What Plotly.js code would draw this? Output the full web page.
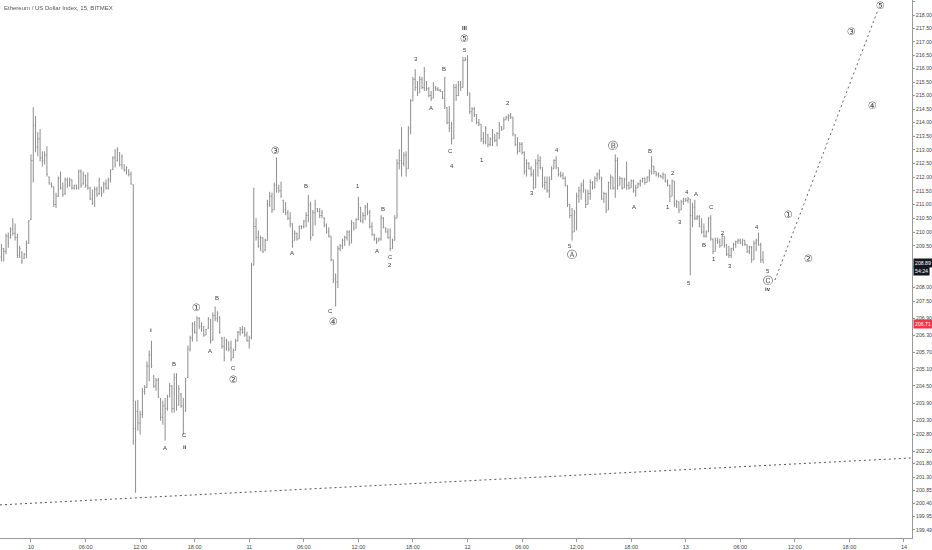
<!DOCTYPE html>
<html><head><meta charset="utf-8">
<script src="https://cdn.plot.ly/plotly-3.0.1.min.js"></script>
<style>html,body{margin:0;padding:0;background:#fff}#chart{width:932px;height:550px}
.main-svg{opacity:0.999}</style>
</head><body><div id="chart"></div>
<script>
// ---- DATA: 15-minute OHLC bars, first bar 2018-11-09 20:45 ----
const openP = [
209.10,209.40,209.30,209.85,209.80,210.10,209.95,209.80,209.15,209.25,
209.05,209.20,209.60,210.45,212.60,213.90,213.10,213.40,212.70,212.60,
212.80,212.00,211.75,211.65,211.00,211.30,211.95,211.60,211.40,211.90,
211.70,211.90,211.60,211.70,211.60,212.20,211.75,212.05,211.70,211.60,
211.20,211.05,211.55,211.40,211.60,211.45,211.75,211.60,211.90,212.28,
212.70,212.60,212.90,212.45,212.45,212.25,212.25,212.10,211.72,
203.00,203.60,203.20,203.50,204.30,204.45,205.20,205.60,204.85,204.50,
204.70,204.05,203.40,203.80,203.70,204.15,204.50,203.70,204.80,204.05,
204.20,203.80,203.60,204.80,205.80,206.20,206.70,206.40,206.90,206.60,
206.60,206.30,206.55,206.85,206.15,207.00,206.90,206.95,206.20,205.90,
205.80,206.05,205.85,205.50,205.75,206.10,206.40,206.50,206.40,206.30,
206.10,206.20,208.80,
210.20,209.80,209.50,209.80,209.35,209.70,211.00,211.30,210.80,211.70,
211.60,211.50,211.15,210.80,210.70,210.50,210.30,209.70,209.95,209.75,
210.20,210.20,210.40,210.60,211.00,209.90,210.70,210.85,210.75,210.60,
210.50,210.25,210.00,209.85,209.00,208.30,208.20,209.40,209.50,209.70,
209.80,210.00,209.60,210.35,210.15,210.45,210.90,210.40,210.60,210.90,
210.70,210.20,209.90,209.75,209.70,209.75,210.50,210.15,210.00,209.80,
209.40,209.70,
210.50,212.50,212.60,212.50,212.80,212.30,213.80,214.80,215.60,215.30,
215.10,215.60,215.30,215.50,215.25,215.00,214.90,215.30,215.25,215.20,
215.15,214.90,214.55,214.00,213.80,213.40,215.30,215.00,215.40,215.30,
216.30,216.35,215.10,214.40,214.50,214.30,214.00,213.94,213.40,213.30,
213.55,213.20,213.40,213.55,213.35,213.60,213.85,213.76,214.10,214.20,
214.25,214.20,213.55,213.20,212.95,213.20,212.90,212.20,212.50,212.30,
212.10,211.60,212.50,212.60,212.35,211.70,211.80,211.50,211.90,212.30,
212.60,212.35,212.10,212.05,211.95,211.70,211.00,210.60,210.00,210.70,
211.30,211.50,211.70,211.54,211.00,211.40,211.80,211.60,211.95,212.10,
212.00,211.20,211.40,210.80,211.80,212.00,211.60,212.60,211.70,211.95,
211.60,211.90,211.70,211.60,211.85,211.50,211.60,211.75,211.85,211.95,
211.80,212.00,212.20,212.40,212.20,212.10,212.05,212.00,212.10,211.85,
211.70,211.30,211.85,211.00,211.10,210.80,211.10,211.20,211.15,211.20,
210.60,210.90,210.50,210.55,210.20,210.00,209.85,210.00,210.50,209.75,
209.30,209.70,209.65,209.50,209.85,209.50,209.20,209.15,209.40,209.55,
209.65,209.70,209.60,209.70,209.55,209.30,209.45,209.00,209.60,209.70,
209.55,209.00];
const highP = [
209.57,209.43,209.94,209.98,210.17,210.50,210.31,209.94,209.50,209.31,
209.24,209.69,210.43,212.83,214.57,214.24,213.65,213.76,212.94,212.94,
213.13,212.02,211.80,211.65,211.43,212.02,212.20,211.80,211.98,211.98,
211.98,211.91,211.72,211.72,212.28,212.28,212.20,212.09,212.17,211.65,
211.54,211.65,211.65,211.98,211.65,211.83,211.91,211.98,212.28,212.76,
213.02,213.09,212.91,212.83,212.46,212.39,212.28,212.20,211.72,
203.98,204.01,203.63,204.43,204.53,205.37,205.75,206.10,204.88,204.78,
204.78,204.08,203.98,204.08,204.19,204.60,204.53,204.95,204.95,204.53,
204.26,204.08,204.78,205.93,206.28,206.76,206.80,206.97,206.94,206.76,
206.63,206.52,206.94,206.87,207.11,207.32,207.15,206.97,206.24,206.24,
206.17,206.07,206.10,205.82,206.17,206.45,206.59,206.63,206.59,206.42,
206.28,208.89,211.61,
210.50,210.06,209.87,209.80,209.76,211.17,211.46,211.43,211.80,212.72,
211.72,211.83,211.17,211.09,210.80,210.72,210.31,210.06,209.98,210.24,
210.24,210.43,210.72,211.35,211.10,210.80,211.17,210.87,210.87,210.80,
210.54,210.31,210.17,209.85,209.00,208.51,209.50,209.57,209.76,209.87,
210.06,210.06,210.43,210.35,210.50,211.28,210.91,210.72,210.98,211.06,
210.80,210.35,209.94,209.80,209.80,210.61,210.54,210.17,210.13,210.13,
209.76,210.61,
212.65,213.02,213.83,212.91,212.94,213.87,214.87,215.69,215.98,215.54,
215.72,215.69,216.06,215.54,215.31,215.17,215.50,215.35,215.31,215.24,
215.17,215.69,214.57,214.61,214.02,215.43,215.43,215.54,215.54,216.43,
216.43,216.50,215.10,214.57,214.57,214.31,214.13,213.94,213.65,213.87,
213.57,213.46,213.76,213.57,213.65,214.02,213.87,214.20,214.24,214.31,
214.35,214.20,213.57,213.46,213.28,213.28,212.94,212.65,212.54,212.39,
212.28,212.65,212.83,212.76,212.35,212.02,212.02,212.02,212.39,212.65,
212.76,212.35,212.20,212.17,212.02,211.70,211.00,210.87,210.80,211.43,
211.65,211.80,211.91,211.54,211.54,211.91,211.85,212.02,212.17,212.28,
212.00,211.46,211.43,211.83,212.09,212.00,212.83,212.72,212.02,211.98,
211.98,212.57,211.83,211.91,211.91,211.72,211.80,211.91,211.98,211.98,
212.02,212.28,212.76,212.40,212.20,212.17,212.09,212.17,212.10,211.91,
211.72,211.91,211.85,211.17,211.10,211.17,211.24,211.24,211.28,211.20,
211.06,211.17,210.61,210.61,210.50,210.31,210.06,210.54,210.61,209.76,
209.80,209.80,209.76,209.94,209.85,209.57,209.50,209.43,209.61,209.69,
209.76,209.76,209.76,209.70,209.55,209.50,209.50,209.69,209.76,209.98,
209.61,209.31];
const lowP = [
208.94,208.94,209.20,209.43,209.76,209.87,209.69,209.06,209.06,208.85,
209.02,209.06,209.57,210.43,211.80,212.91,212.76,212.57,212.39,212.46,
212.02,211.72,211.61,210.91,210.87,211.28,211.54,211.28,211.35,211.61,
211.65,211.54,211.54,211.54,211.54,211.61,211.72,211.61,211.54,211.17,
210.98,210.91,211.28,211.35,211.28,211.43,211.54,211.54,211.80,212.25,
212.35,212.57,212.39,212.28,212.20,212.09,212.02,211.72,202.44,
200.77,202.93,202.79,203.38,204.19,204.43,204.67,205.13,204.43,204.33,
204.08,203.28,203.14,202.58,203.63,204.10,203.56,203.56,203.63,203.80,
203.73,202.79,203.60,204.78,205.72,206.07,206.35,206.07,206.52,206.42,
206.24,206.30,206.52,206.00,206.10,206.80,206.76,206.35,205.82,205.37,
205.75,205.72,205.37,205.48,205.75,206.07,206.28,206.35,206.24,206.07,
205.82,206.15,208.80,
209.69,209.43,209.31,209.24,209.31,209.69,210.91,210.69,210.80,211.43,
211.43,211.24,210.69,210.61,210.43,210.17,209.43,209.69,209.69,209.75,
210.10,210.13,210.17,210.35,209.69,209.85,210.24,210.72,210.50,210.50,
210.17,209.94,209.80,208.94,208.16,207.32,207.98,209.31,209.39,209.50,
209.69,209.50,209.60,210.06,210.13,210.43,210.35,210.31,210.43,210.61,
210.13,209.87,209.69,209.57,209.65,209.69,210.13,209.98,209.76,209.31,
209.39,209.69,
210.50,212.28,212.02,212.39,212.02,212.30,213.57,214.80,215.17,214.98,
215.10,215.24,215.17,215.17,214.94,214.80,214.90,215.17,215.17,215.13,
214.87,214.50,213.94,213.65,213.20,213.40,214.80,214.98,215.17,215.30,
216.28,214.98,214.31,214.02,214.20,213.94,213.87,213.28,213.20,213.20,
213.09,213.13,213.13,213.28,213.13,213.39,213.69,213.76,214.10,214.06,
214.13,213.50,213.13,212.83,212.91,212.83,212.09,212.02,212.28,212.02,
211.54,211.60,212.02,212.28,211.61,211.54,211.43,211.24,211.90,212.30,
212.28,212.02,211.98,211.91,211.65,210.91,210.50,209.69,210.00,210.06,
211.06,211.17,211.43,210.87,211.00,211.17,211.54,211.60,211.83,211.91,
211.17,211.06,210.69,210.80,211.54,211.54,211.24,211.54,211.70,211.54,
211.60,211.54,211.54,211.60,211.43,211.28,211.60,211.65,211.80,211.72,
211.80,211.83,212.09,212.10,212.02,211.98,211.98,211.91,211.80,211.65,
211.09,211.30,210.91,210.87,210.69,210.80,210.98,211.09,211.06,208.44,
210.17,210.43,210.43,210.17,209.94,209.80,209.80,210.00,209.69,209.20,
209.30,209.57,209.43,209.50,209.43,209.13,209.06,209.06,209.31,209.43,
209.57,209.57,209.50,209.50,209.24,209.20,208.89,209.00,209.31,209.50,
208.89,208.89];
const closeP = [
209.40,209.30,209.85,209.60,210.10,209.95,209.80,209.15,209.40,208.95,
209.20,209.60,210.40,212.60,213.90,213.10,213.40,212.70,212.60,212.80,
212.10,211.80,211.65,211.00,211.30,211.95,211.60,211.35,211.90,211.70,
211.90,211.60,211.70,211.60,212.20,211.70,212.10,211.70,211.60,211.20,
211.05,211.55,211.35,211.90,211.40,211.75,211.60,211.90,212.25,212.70,
212.45,213.00,212.45,212.75,212.25,212.35,212.10,211.75,203.00,
203.60,203.20,203.50,204.30,204.45,205.20,205.60,205.20,204.50,204.70,
204.10,203.40,203.80,203.70,204.10,204.50,203.70,204.80,203.80,204.40,
203.80,203.10,204.70,205.80,206.20,206.70,206.40,206.90,206.60,206.70,
206.30,206.50,206.90,206.10,207.00,206.90,207.10,206.40,205.90,205.50,
206.10,205.80,205.45,205.75,206.10,206.40,206.50,206.40,206.30,206.10,
206.20,208.80,210.20,
209.80,209.50,209.80,209.30,209.70,211.00,211.30,210.80,211.70,211.60,
211.50,211.30,210.80,210.70,210.50,210.30,209.70,209.95,209.75,210.20,
210.20,210.40,210.60,211.00,209.80,210.70,211.00,210.75,210.60,210.70,
210.25,210.00,209.85,209.00,208.30,208.20,209.40,209.50,209.70,209.80,
210.00,209.60,210.35,210.10,210.45,211.00,210.40,210.60,210.90,210.70,
210.20,209.90,209.75,209.65,209.75,210.50,210.20,210.00,209.80,209.40,
209.70,210.50,
212.50,212.60,212.50,212.80,212.30,213.80,214.80,215.60,215.30,215.10,
215.60,215.30,215.90,215.25,215.00,214.90,215.40,215.25,215.20,215.15,
214.90,214.60,214.00,213.80,213.40,215.30,215.00,215.40,215.30,216.30,
216.35,215.10,214.40,214.50,214.30,214.00,213.95,213.40,213.30,213.80,
213.20,213.40,213.70,213.35,213.60,213.90,213.75,214.10,214.20,214.25,
214.20,213.60,213.20,212.95,213.20,212.90,212.20,212.50,212.30,212.10,
211.60,212.50,212.60,212.35,211.70,211.80,211.50,211.90,212.30,212.60,
212.40,212.10,212.05,211.95,211.70,211.00,210.60,210.00,210.70,211.30,
211.50,211.70,211.60,211.00,211.40,211.80,211.60,211.95,212.10,212.20,
211.20,211.40,210.80,211.80,212.00,211.60,212.60,211.70,211.95,211.60,
211.90,211.70,211.60,211.85,211.50,211.60,211.75,211.85,211.95,211.80,
212.00,212.20,212.40,212.20,212.10,212.05,212.00,212.10,211.85,211.70,
211.30,211.85,211.00,211.10,210.80,211.10,211.20,211.15,211.20,210.60,
210.90,210.50,210.55,210.20,210.00,209.85,210.00,210.50,209.75,209.30,
209.70,209.65,209.50,209.85,209.50,209.20,209.15,209.40,209.55,209.65,
209.70,209.60,209.70,209.55,209.30,209.45,209.00,209.60,209.70,209.55,
209.00,208.89];

const lastPrice = 208.89;
const timerText = '54:24';
const timerPrice = 208.61;
const stopPrice = 206.71;
const stopStart = '2018-11-13 04:19';
// dotted trend line (time, price)
const trendX = ['2018-11-09 20:35:30', '2018-11-14 00:53'];
const trendY = [200.35, 201.98];
// dotted projection line
const projX = ['2018-11-13 09:49', '2018-11-13 21:08'];
const projY = [208.27, 218.19];
// target box
const boxX = ['2018-11-13 07:17', '2018-11-13 17:24'];
const boxY = [207.71, 208.72];

const yTicks = [218.5,218,217.5,217,216.5,216,215.5,215,214.5,214,213.5,213,212.5,212,211.5,211,210.5,210,209.5,
  208,207.5,206.9,206.3,205.7,205.1,204.5,203.9,203.3,202.8,202.2,201.8,201.3,200.85,200.4,199.95,199.49];
const xTickVals = ['2018-11-10 00:00','2018-11-10 06:00','2018-11-10 12:00','2018-11-10 18:00',
  '2018-11-11 00:00','2018-11-11 06:00','2018-11-11 12:00','2018-11-11 18:00',
  '2018-11-12 00:00','2018-11-12 06:00','2018-11-12 12:00','2018-11-12 18:00',
  '2018-11-13 00:00','2018-11-13 06:00','2018-11-13 12:00','2018-11-13 18:00','2018-11-14 00:00'];
const xTickText = ['10','06:00','12:00','18:00','11','06:00','12:00','18:00','12','06:00','12:00','18:00','13','06:00','12:00','18:00','14'];

// wave labels: [time, price, text, kind]  kind: l=letter/digit, c=circled, r=roman
const waveLabels = [
 ['2018-11-11 23:43',217.50,'III','r'],['2018-11-11 23:43',217.13,'⑤','c'],['2018-11-11 23:43',216.68,'5','l'],
 ['2018-11-11 18:20',216.35,'3','l'],['2018-11-11 21:25',215.98,'B','l'],['2018-11-11 19:59',214.53,'A','l'],
 ['2018-11-11 22:11',212.94,'C','l'],['2018-11-11 22:18',212.42,'4','l'],['2018-11-12 01:36',212.64,'1','l'],
 ['2018-11-12 04:27',214.72,'2','l'],['2018-11-12 07:06',211.42,'3','l'],['2018-11-12 09:51',212.98,'4','l'],
 ['2018-11-12 11:16',209.50,'5','l'],['2018-11-12 11:29',209.18,'Ⓐ','c'],['2018-11-12 16:00',213.16,'Ⓑ','c'],
 ['2018-11-12 18:19',210.90,'A','l'],['2018-11-12 20:04',212.94,'B','l'],['2018-11-12 22:36',212.13,'2','l'],
 ['2018-11-12 22:03',210.90,'1','l'],['2018-11-12 23:22',210.38,'3','l'],['2018-11-13 00:08',211.46,'4','l'],
 ['2018-11-13 01:08',211.39,'A','l'],['2018-11-13 02:53',210.90,'C','l'],['2018-11-13 02:00',209.53,'B','l'],
 ['2018-11-13 04:06',209.98,'2','l'],['2018-11-13 03:06',209.01,'1','l'],['2018-11-13 04:52',208.79,'3','l'],
 ['2018-11-13 00:21',208.16,'5','l'],['2018-11-13 07:50',210.20,'4','l'],['2018-11-13 09:03',208.58,'5','l'],
 ['2018-11-13 09:03',208.26,'Ⓒ','c'],['2018-11-13 09:03',207.95,'iv','r'],
 ['2018-11-13 11:21',210.64,'①','c'],['2018-11-13 13:33',209.05,'②','c'],['2018-11-13 18:17',217.38,'③','c'],
 ['2018-11-13 20:35',214.64,'④','c'],['2018-11-13 21:22',218.38,'⑤','c'],
 ['2018-11-11 02:56',212.98,'③','c'],['2018-11-11 06:14',211.68,'B','l'],['2018-11-11 04:42',209.24,'A','l'],
 ['2018-11-11 11:57',211.68,'1','l'],['2018-11-11 14:42',210.83,'B','l'],['2018-11-11 14:03',209.31,'A','l'],
 ['2018-11-11 15:29',209.09,'C','l'],['2018-11-11 15:29',208.82,'2','l'],['2018-11-11 08:59',207.15,'C','l'],
 ['2018-11-11 09:13',206.80,'④','c'],
 ['2018-11-10 13:12',206.49,'i','r'],['2018-11-10 15:43',205.27,'B','l'],['2018-11-10 14:44',202.34,'A','l'],
 ['2018-11-10 16:56',202.79,'C','l'],['2018-11-10 16:56',202.37,'ii','r'],['2018-11-10 18:09',207.29,'①','c'],
 ['2018-11-10 20:27',207.64,'B','l'],['2018-11-10 19:41',205.75,'A','l'],['2018-11-10 22:13',205.13,'C','l'],
 ['2018-11-10 22:13',204.74,'②','c']
];

// ---- build ----
function fmt(ms){const d=new Date(ms);const p=n=>String(n).padStart(2,'0');
  return d.getUTCFullYear()+'-'+p(d.getUTCMonth()+1)+'-'+p(d.getUTCDate())+' '+p(d.getUTCHours())+':'+p(d.getUTCMinutes());}
const t0 = Date.UTC(2018,10,9,20,45);
const times = openP.map((_,i)=>fmt(t0+i*15*60000));
const L = Math.log10;
const FONT = '"Liberation Sans",Arial,sans-serif';
const barColor = '#8d8d8d';
const labelColor = '#3c3c3c';

const traces = [
 {type:'ohlc', x:times, open:openP, high:highP, low:lowP, close:closeP,
  increasing:{line:{color:barColor,width:1}}, decreasing:{line:{color:barColor,width:1}},
  tickwidth:0.35, hoverinfo:'skip', showlegend:false},
 {type:'scatter', mode:'lines', x:trendX, y:trendY, line:{color:'#555',width:1,dash:'2px,3px'}, hoverinfo:'skip', showlegend:false},
 {type:'scatter', mode:'lines', x:projX, y:projY, line:{color:'#666',width:1,dash:'2px,3px'}, hoverinfo:'skip', showlegend:false}
];

const annotations = waveLabels.map(([t,p,txt,k])=>({
  x:t, y:L(p), xref:'x', yref:'y', text: txt, showarrow:false,
  xanchor:'center', yanchor:'middle',
  font: k==='c' ? {family:'"DejaVu Sans",sans-serif', size:10, color:'#4a4a4a'}
                : {family:FONT, size:6, color:labelColor, weight: k==='r' ? 700 : 400}
}));
const boxFont = {family:FONT, size:5.2, color:'#fff'};
annotations.push(
 {xref:'paper', yref:'paper', x:0, y:1, xshift:2, yshift:-3, xanchor:'left', yanchor:'top', showarrow:false,
  text:'Ethereum / US Dollar Index, 15, BITMEX', font:{family:FONT, size:6, color:'#555'}},
 {xref:'paper', yref:'y', x:1, y:L(lastPrice), xanchor:'left', yanchor:'middle', xshift:1, showarrow:false,
  text:lastPrice.toFixed(2), bgcolor:'#131722', borderpad:1, font:boxFont},
 {xref:'paper', yref:'y', x:1, y:L(timerPrice), xanchor:'left', yanchor:'middle', xshift:1, showarrow:false,
  text:timerText, bgcolor:'#131722', borderpad:1, font:boxFont},
 {xref:'paper', yref:'y', x:1, y:L(stopPrice), xanchor:'left', yanchor:'middle', xshift:1, showarrow:false,
  text:stopPrice.toFixed(2), bgcolor:'#f23645', borderpad:1, font:boxFont}
);

const shapes = [
 {type:'rect', xref:'x', yref:'y', x0:boxX[0], x1:boxX[1], y0:L(boxY[0]), y1:L(boxY[1]),
  fillcolor:'#fde8d7', line:{color:'#e3977d', width:1}, layer:'below'},
 {type:'line', xref:'paper', yref:'y', x0:0, x1:1, y0:L(lastPrice), y1:L(lastPrice), line:{color:'#555', width:1}},
 {type:'line', xref:'x', yref:'y', x0:stopStart, x1:trendX[1], y0:L(stopPrice), y1:L(stopPrice), line:{color:'#f23645', width:1}}
];

const layout = {
  width:932, height:550, margin:{l:0, r:20, t:0, b:12, pad:0},
  paper_bgcolor:'#fff', plot_bgcolor:'#fff', showlegend:false,
  font:{family:FONT, size:5.2, color:'#555'},
  xaxis:{type:'date', range:[trendX[0], trendX[1]], tickmode:'array', tickvals:xTickVals, ticktext:xTickText,
    showgrid:false, zeroline:false, showline:true, linecolor:'#9a9a9a', linewidth:1, ticks:'outside', ticklen:3,
    tickcolor:'#9a9a9a', tickfont:{family:FONT, size:5.5, color:'#444'}, rangeslider:{visible:false}, fixedrange:true},
  yaxis:{type:'log', side:'right', range:[L(199.21), L(218.57)], tickmode:'array', tickvals:yTicks,
    ticktext:yTicks.map(v=>v.toFixed(2)), showgrid:false, zeroline:false, showline:true, linecolor:'#9a9a9a',
    linewidth:1, ticks:'outside', ticklen:2, tickcolor:'#9a9a9a', tickfont:{family:FONT, size:5.2, color:'#444'}, fixedrange:true},
  shapes, annotations
};
Plotly.newPlot('chart', traces, layout, {displayModeBar:false, staticPlot:true});
</script></body></html>
